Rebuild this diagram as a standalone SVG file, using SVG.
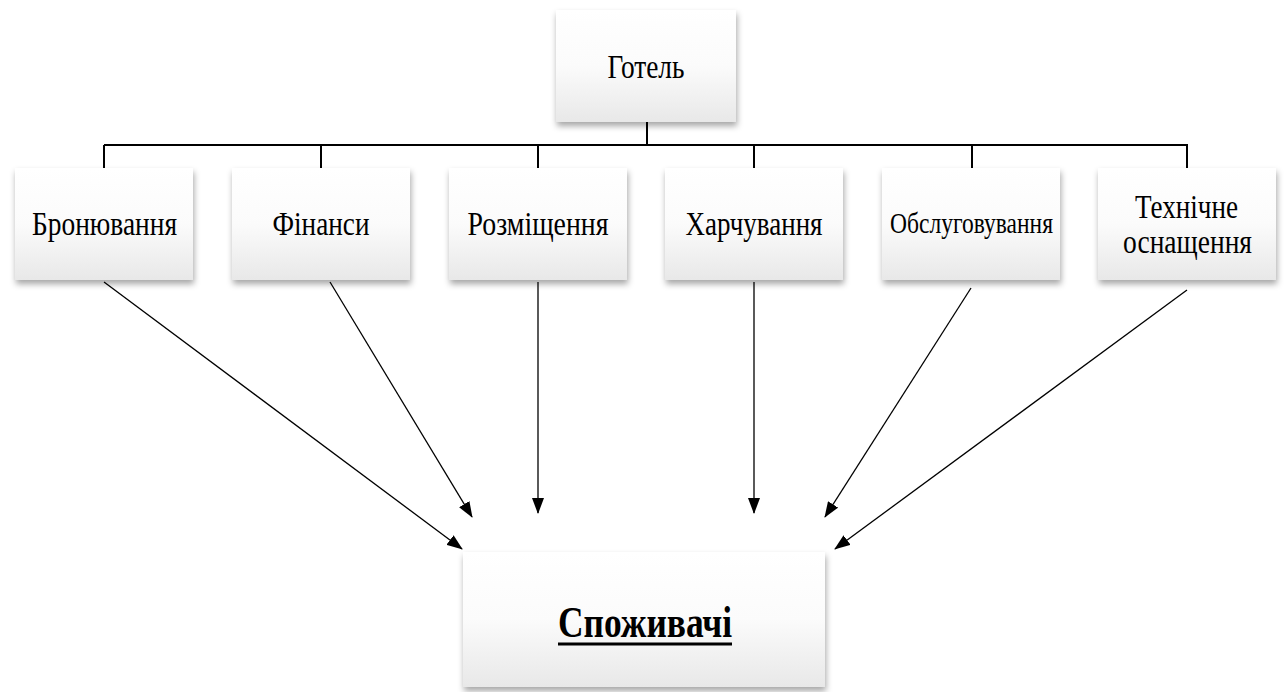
<svg xmlns="http://www.w3.org/2000/svg" width="1285" height="692" viewBox="0 0 1285 692">
<style>
.box{fill:url(#g);filter:url(#sh)}
.t{font-family:"Liberation Serif","Times New Roman",serif;fill:#000;text-anchor:middle}
.c{stroke:#000;stroke-width:1.3;fill:none}
.tree{stroke:#000;stroke-width:2;fill:none}
</style>
<defs>
<linearGradient id="g" x1="0" y1="0" x2="0" y2="1">
<stop offset="0" stop-color="#ffffff"/>
<stop offset="0.5" stop-color="#fbfbfb"/>
<stop offset="1" stop-color="#e8e8e8"/>
</linearGradient>
<filter id="sh" x="-10%" y="-10%" width="125%" height="130%">
<feDropShadow dx="1" dy="4" stdDeviation="3" flood-color="#000" flood-opacity="0.35"/>
</filter>
<marker id="a" markerWidth="16" markerHeight="12" refX="15" refY="6" orient="auto" markerUnits="userSpaceOnUse">
<path d="M0,0 L16,6 L0,12 Z" fill="#000"/>
</marker>
</defs>
<rect width="1285" height="692" fill="#fff"/>
<g id="connectors">
<path class="tree" d="M647,122 V145 M104,145 H1188 M104,145 V168 M321,145 V168 M538,145 V168 M754,145 V168 M972,145 V168 M1187,145 V168"/>
<line class="c" x1="104" y1="282" x2="462" y2="549" marker-end="url(#a)"/>
<line class="c" x1="330" y1="282" x2="472" y2="517" marker-end="url(#a)"/>
<line class="c" x1="538" y1="282" x2="538" y2="513" marker-end="url(#a)"/>
<line class="c" x1="754" y1="282" x2="754" y2="513" marker-end="url(#a)"/>
<line class="c" x1="971" y1="288" x2="825" y2="517" marker-end="url(#a)"/>
<line class="c" x1="1187" y1="290" x2="835" y2="549" marker-end="url(#a)"/>
</g>
<g id="hotel">
<rect class="box" x="556" y="10" width="180" height="112"/>
<text class="t" x="646" y="78" font-size="34" textLength="77" lengthAdjust="spacingAndGlyphs">Готель</text>
</g>
<g id="booking">
<rect class="box" x="15" y="168" width="178" height="112"/>
<text class="t" x="104.5" y="235" font-size="34" textLength="145" lengthAdjust="spacingAndGlyphs">Бронювання</text>
</g>
<g id="finance">
<rect class="box" x="232" y="168" width="178" height="112"/>
<text class="t" x="321" y="235" font-size="34" textLength="97" lengthAdjust="spacingAndGlyphs">Фінанси</text>
</g>
<g id="accommodation">
<rect class="box" x="449" y="168" width="178" height="112"/>
<text class="t" x="538" y="235" font-size="34" textLength="141" lengthAdjust="spacingAndGlyphs">Розміщення</text>
</g>
<g id="food">
<rect class="box" x="665" y="168" width="178" height="112"/>
<text class="t" x="754" y="235" font-size="34" textLength="137" lengthAdjust="spacingAndGlyphs">Харчування</text>
</g>
<g id="service">
<rect class="box" x="882" y="168" width="178" height="112"/>
<text class="t" x="971.5" y="233" font-size="29" textLength="163" lengthAdjust="spacingAndGlyphs">Обслуговування</text>
</g>
<g id="technical">
<rect class="box" x="1098" y="168" width="178" height="112"/>
<text class="t" x="1186.5" y="218" font-size="34" textLength="103" lengthAdjust="spacingAndGlyphs">Технічне</text>
<text class="t" x="1187.5" y="253" font-size="34" textLength="129" lengthAdjust="spacingAndGlyphs">оснащення</text>
</g>
<g id="consumers">
<rect class="box" x="463" y="552" width="362" height="135"/>
<text class="t" x="645" y="637" font-size="44" font-weight="bold" textLength="174" lengthAdjust="spacingAndGlyphs">Споживачі</text>
<line x1="558" y1="644" x2="732" y2="644" stroke="#000" stroke-width="3"/>
</g>
</svg>
